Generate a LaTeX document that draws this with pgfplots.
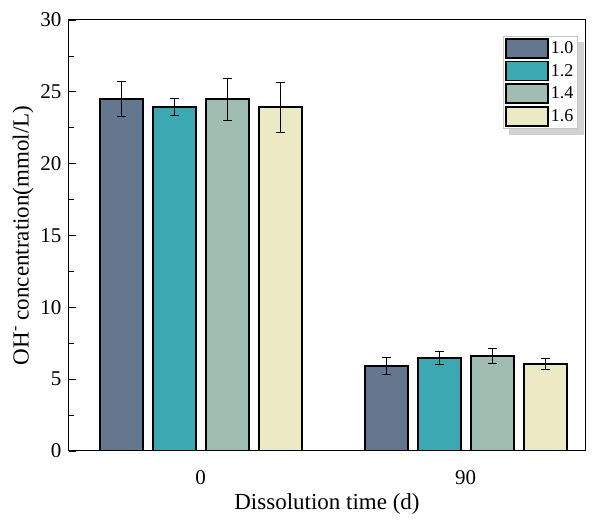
\documentclass[border=0pt]{standalone}
\usepackage{fontspec}
\setmainfont{Liberation Serif}
\usepackage{pgfplots}
\pgfplotsset{compat=1.18}
\usetikzlibrary{backgrounds}
\definecolor{cA}{RGB}{100,119,142}
\definecolor{cB}{RGB}{60,168,178}
\definecolor{cC}{RGB}{160,189,178}
\definecolor{cD}{RGB}{236,234,196}
\begin{document}
\begin{tikzpicture}
\begin{axis}[
  at={(0,0)}, anchor=south west,
  scale only axis, width=516pt, height=431pt,
  ybar=10pt, bar width=43pt,
  xmin=-0.497, xmax=1.45,
  ymin=0, ymax=30,
  xtick={0,1}, xticklabels={0,90},
  xtick style={draw=none},
  ytick={0,5,...,30},
  minor y tick num=1,
  ytick pos=left,
  ytick align=inside,
  major tick length=7pt, minor tick length=5pt,
  y tick style={black, line width=0.8pt},
  axis line style={line width=1pt},
  /pgf/number format/assume math mode=true,
  tick label style={font=\fontsize{21}{21}\selectfont},
  xticklabel style={yshift=-9pt},
  yticklabel style={xshift=-4pt},
  label style={font=\fontsize{23}{23}\selectfont},
  xlabel={Dissolution time (d)},
  ylabel={OH\textsuperscript{-} concentration(mmol/L)},
  xlabel style={yshift=-2pt},
  ylabel style={yshift=0pt},
  error bars/y dir=both, error bars/y explicit,
  error bars/error bar style={line width=0.8pt, black},
  error bars/error mark options={rotate=90, mark size=4.5pt, line width=0.8pt, black},
  legend style={at={(0.986,0.963)}, anchor=north east,
    name=leg,
    draw=gray!45, line width=0.6pt, fill=white,
    font=\fontsize{18}{18}\selectfont,
    row sep=2pt, inner sep=2pt,
    /tikz/every even column/.append style={column sep=3pt}},
  legend cell align=left,
  legend image code/.code={\draw[#1,/tikz/.cd, draw=black, line width=1.6pt] (0pt,-9.5pt) rectangle (42pt,9.5pt);},
]
\addplot[fill=cA, draw=black, line width=1.6pt] coordinates {(0,24.5) +- (0,1.24) (1,5.92) +- (0,0.57)};
\addplot[fill=cB, draw=black, line width=1.6pt] coordinates {(0,23.94) +- (0,0.58) (1,6.47) +- (0,0.44)};
\addplot[fill=cC, draw=black, line width=1.6pt] coordinates {(0,24.5) +- (0,1.46) (1,6.63) +- (0,0.5)};
\addplot[fill=cD, draw=black, line width=1.6pt] coordinates {(0,23.94) +- (0,1.74) (1,6.05) +- (0,0.37)};
\legend{1.0,1.2,1.4,1.6}
\end{axis}
\begin{pgfonlayer}{background}
\fill[gray!35] ([xshift=6pt,yshift=-6pt]leg.south west) rectangle ([xshift=6pt,yshift=-6pt]leg.north east);
\end{pgfonlayer}
\path (-69pt,-75pt) rectangle (541pt,451pt);
\end{tikzpicture}
\end{document}
